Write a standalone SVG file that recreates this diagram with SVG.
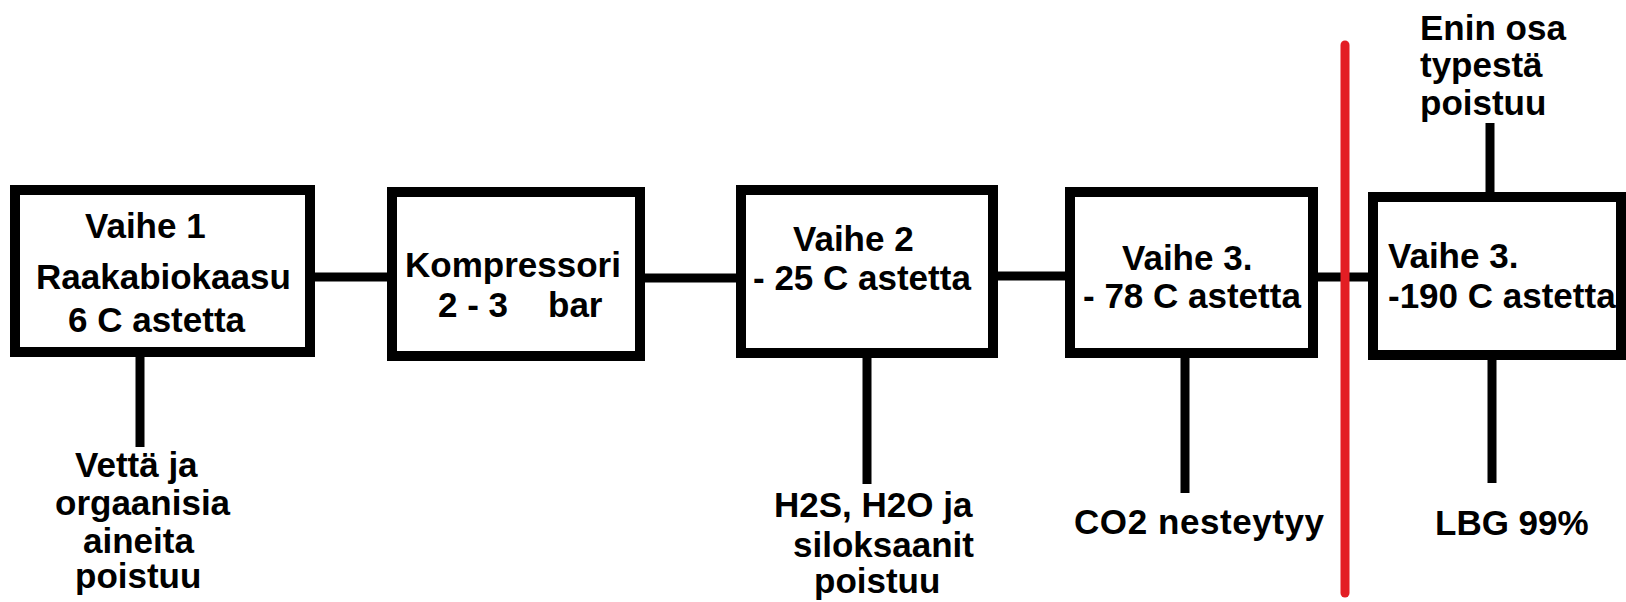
<svg xmlns="http://www.w3.org/2000/svg" width="1626" height="602" viewBox="0 0 1626 602">
<style>
.box{fill:#fff;stroke:#000;stroke-width:10}
.ln{stroke:#000;stroke-width:9;fill:none}
.red{stroke:#e31e24;stroke-width:9;stroke-linecap:round;fill:none}
text{font-family:"Liberation Sans",Arial,sans-serif;font-weight:bold;font-size:35px;fill:#000}
</style>
<rect width="1626" height="602" fill="#fff"/>
<g id="connectors">
<line class="ln" x1="315" y1="277" x2="387" y2="277"/>
<line class="ln" x1="645" y1="278" x2="736" y2="278"/>
<line class="ln" x1="998" y1="276" x2="1065" y2="276"/>
<line class="ln" x1="1318" y1="277" x2="1368" y2="277"/>
<line class="ln" x1="140" y1="357" x2="140" y2="447"/>
<line class="ln" x1="867" y1="358" x2="867" y2="484"/>
<line class="ln" x1="1185" y1="358" x2="1185" y2="493"/>
<line class="ln" x1="1492" y1="360" x2="1492" y2="483"/>
<line class="ln" x1="1490" y1="123" x2="1490" y2="192"/>
</g>
<g id="node1">
<rect class="box" x="15" y="190" width="295" height="162"/>
<text x="85" y="238">Vaihe 1</text>
<text x="36" y="289">Raakabiokaasu</text>
<text x="68" y="332">6 C astetta</text>
</g>
<g id="node2">
<rect class="box" x="392" y="192" width="248" height="164"/>
<text x="405" y="277">Kompressori</text>
<text x="438" y="317">2 - 3</text>
<text x="548" y="317">bar</text>
</g>
<g id="node3">
<rect class="box" x="741" y="190" width="252" height="163"/>
<text x="793" y="251">Vaihe 2</text>
<text x="753" y="290">- 25 C astetta</text>
</g>
<g id="node4">
<rect class="box" x="1070" y="192" width="243" height="161"/>
<text x="1122" y="270">Vaihe 3.</text>
<text x="1083" y="308">- 78 C astetta</text>
</g>
<g id="node5">
<rect class="box" x="1373" y="197" width="248" height="158"/>
<text x="1388" y="268">Vaihe 3.</text>
<text x="1388" y="308">-190 C astetta</text>
</g>
<g id="label1">
<text x="75" y="477">Vettä ja</text>
<text x="55" y="515">orgaanisia</text>
<text x="83" y="553">aineita</text>
<text x="75" y="588">poistuu</text>
</g>
<g id="label3">
<text x="774" y="517">H2S, H2O ja</text>
<text x="793" y="557">siloksaanit</text>
<text x="814" y="593">poistuu</text>
</g>
<g id="label4">
<text x="1074" y="534" textLength="250">CO2 nesteytyy</text>
</g>
<g id="label5">
<text x="1435" y="535">LBG 99%</text>
</g>
<g id="label5top">
<text x="1420" y="40">Enin osa</text>
<text x="1420" y="77">typestä</text>
<text x="1420" y="115">poistuu</text>
</g>
<g id="divider">
<line class="red" x1="1345" y1="45" x2="1345" y2="593"/>
</g>
</svg>
